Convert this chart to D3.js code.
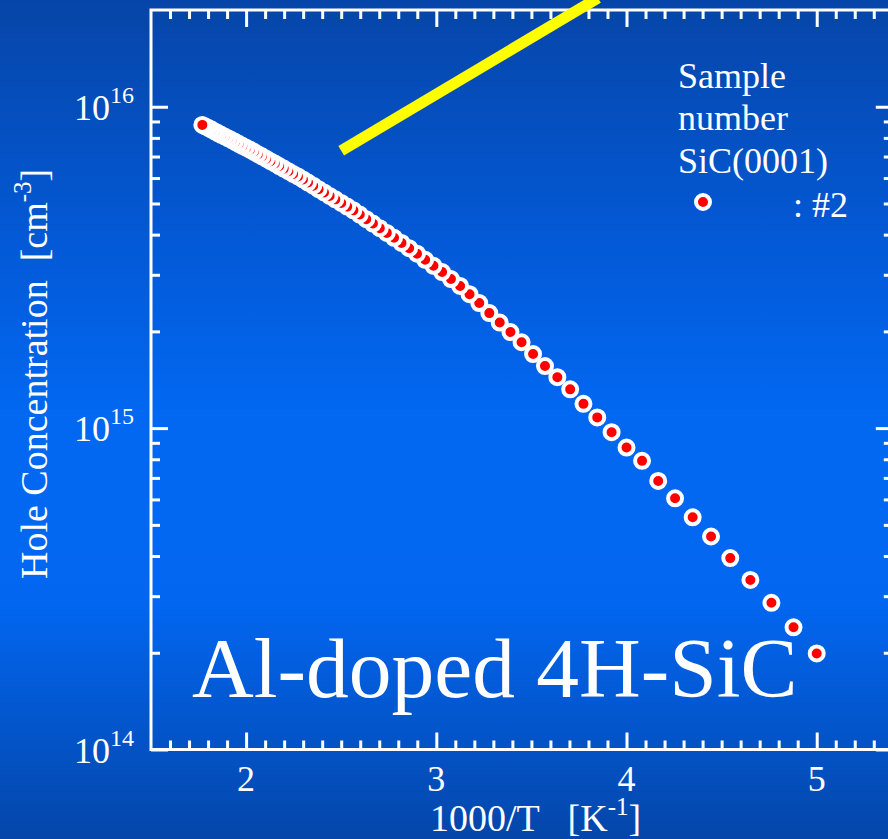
<!DOCTYPE html>
<html>
<head>
<meta charset="utf-8">
<script src="https://cdn.jsdelivr.net/npm/d3@7"></script>
<style>
  html, body { margin: 0; padding: 0; overflow: hidden; background: #0458d0; }
  text { font-family: "Liberation Serif", "Times New Roman", serif; fill: #ffffff; white-space: pre; }
</style>
</head>
<body>
<svg id="chart" width="888" height="839"></svg>
<script>
// Measurement temperatures (K) and hole concentration (cm^-3), sample #2
const temperatureK = [
  200, 205, 210, 215, 220, 225, 230, 235, 240, 245,
  250, 255, 260, 265, 270, 275, 280, 285, 290, 295,
  300, 305, 310, 315, 320, 325, 330, 335, 340, 345,
  350, 355, 360, 365, 370, 375, 380, 385, 390, 395,
  400, 405, 410, 415, 420, 425, 430, 435, 440, 445,
  450, 455, 460, 465, 470, 475, 480, 485, 490, 495,
  500, 505, 510, 515, 520, 525, 530, 535, 540, 545,
  550, 555, 560, 565
];
const holeConcentration = [
  1.99e14, 2.40e14, 2.86e14, 3.37e14, 3.94e14, 4.60e14, 5.28e14, 6.05e14, 6.85e14, 7.91e14,
  8.70e14, 9.71e14, 1.08e15, 1.19e15, 1.32e15, 1.44e15, 1.56e15, 1.70e15, 1.85e15, 1.99e15,
  2.13e15, 2.28e15, 2.45e15, 2.61e15, 2.77e15, 2.91e15, 3.06e15, 3.20e15, 3.34e15, 3.49e15,
  3.63e15, 3.77e15, 3.91e15, 4.05e15, 4.19e15, 4.33e15, 4.47e15, 4.62e15, 4.76e15, 4.89e15,
  5.02e15, 5.15e15, 5.28e15, 5.41e15, 5.54e15, 5.68e15, 5.81e15, 5.94e15, 6.07e15, 6.18e15,
  6.30e15, 6.42e15, 6.54e15, 6.66e15, 6.77e15, 6.89e15, 7.01e15, 7.12e15, 7.24e15, 7.35e15,
  7.46e15, 7.56e15, 7.67e15, 7.78e15, 7.88e15, 7.98e15, 8.08e15, 8.18e15, 8.28e15, 8.38e15,
  8.49e15, 8.59e15, 8.68e15, 8.78e15
];

// Axis tick labels
const xTickLabels = [2, 3, 4, 5];
const yDecadeExponents = [14, 15, 16];

// Legend and annotation text
const legendLines = ["Sample", "number", "SiC(0001)"];
const legendEntry = ": #2";
const materialLabel = "Al-doped 4H-SiC";

// Yellow slope guide (1000/T, cm^-3)
const guideX = [2.5, 3.85];
const guideY = [7.3e15, 2.18e16];

const W = 888, H = 839;
const svg = d3.select("#chart");

// Slide background: vertical blue gradient
const grad = svg.append("defs").append("linearGradient")
  .attr("id", "bg").attr("x1", 0).attr("y1", 0).attr("x2", 0).attr("y2", 1);
[["0%", "#0645a8"], ["30%", "#035ad8"], ["50%", "#0268f2"], ["72%", "#0266f0"], ["100%", "#0446aa"]]
  .forEach(([o, c]) => grad.append("stop").attr("offset", o).attr("stop-color", c));
svg.append("rect").attr("width", W).attr("height", H).attr("fill", "url(#bg)");

// Scales
const x = d3.scaleLinear().domain([1.5, 5.4]).range([151, 892.8]);
const y = d3.scaleLog().domain([1e14, 2e16]).range([749.5, 10]);
const [x0, x1] = x.range();
const [yB, yT] = y.range();

const rows = temperatureK.map((t, i) => ({ t, inv: 1000 / t, p: holeConcentration[i] }));

// Ticks
const xMajor = xTickLabels;
const xMinor = x.ticks(40).filter(v => Math.abs(v - Math.round(v)) > 1e-6 && v > 1.5);
const yAll = y.ticks();
const yMajor = yAll.filter(v => Math.abs(Math.log10(v) - Math.round(Math.log10(v))) < 1e-9);
const yMinor = yAll.filter(v => !yMajor.includes(v) && v < 2e16);

function styleAxis(g) {
  g.select(".domain").remove();
  g.selectAll("line").attr("stroke", "#ffffff").attr("stroke-width", 3);
  g.selectAll("text").remove();
}

const axes = svg.append("g");
// bottom
axes.append("g").attr("transform", `translate(0,${yB})`)
  .call(d3.axisBottom(x).tickValues(xMinor).tickSizeInner(-9).tickSizeOuter(0)).call(styleAxis);
axes.append("g").attr("transform", `translate(0,${yB})`)
  .call(d3.axisBottom(x).tickValues(xMajor).tickSizeInner(-17).tickSizeOuter(0)).call(styleAxis);
// top
axes.append("g").attr("transform", `translate(0,${yT})`)
  .call(d3.axisTop(x).tickValues(xMinor).tickSizeInner(-9).tickSizeOuter(0)).call(styleAxis);
axes.append("g").attr("transform", `translate(0,${yT})`)
  .call(d3.axisTop(x).tickValues(xMajor).tickSizeInner(-17).tickSizeOuter(0)).call(styleAxis);
// left
axes.append("g").attr("transform", `translate(${x0},0)`)
  .call(d3.axisLeft(y).tickValues(yMinor).tickSizeInner(-9).tickSizeOuter(0)).call(styleAxis);
axes.append("g").attr("transform", `translate(${x0},0)`)
  .call(d3.axisLeft(y).tickValues(yMajor).tickSizeInner(-17).tickSizeOuter(0)).call(styleAxis);
// right
axes.append("g").attr("transform", `translate(${x1},0)`)
  .call(d3.axisRight(y).tickValues(yMinor).tickSizeInner(-9).tickSizeOuter(0)).call(styleAxis);
axes.append("g").attr("transform", `translate(${x1},0)`)
  .call(d3.axisRight(y).tickValues(yMajor).tickSizeInner(-17).tickSizeOuter(0)).call(styleAxis);

// frame
axes.append("rect")
  .attr("x", x0).attr("y", yT).attr("width", x1 - x0).attr("height", yB - yT)
  .attr("fill", "none").attr("stroke", "#ffffff").attr("stroke-width", 3);

// x tick labels
svg.append("g").selectAll("text").data(xTickLabels).join("text")
  .attr("x", d => x(d)).attr("y", yB + 41)
  .attr("text-anchor", "middle").attr("font-size", 36)
  .text(d => d);

// y tick labels: 10 with superscript exponent
const yl = svg.append("g").selectAll("text").data(yDecadeExponents).join("text")
  .attr("x", 134).attr("y", d => y(Math.pow(10, d)) + 13)
  .attr("text-anchor", "end").attr("font-size", 36);
yl.append("tspan").text("10");
yl.append("tspan").attr("font-size", 24).attr("dy", -17).text(d => d);

// axis titles
const xt = svg.append("text").attr("x", 430).attr("y", 831).attr("font-size", 38);
xt.append("tspan").text("1000/T   [K");
xt.append("tspan").attr("font-size", 25).attr("dy", -16).text("-1");
xt.append("tspan").attr("dy", 16).text("]");

const yt = svg.append("text").attr("transform", "translate(47,579) rotate(-90)").attr("font-size", 38);
yt.append("tspan").text("Hole Concentration  [cm");
yt.append("tspan").attr("font-size", 25).attr("dy", -16).text("-3");
yt.append("tspan").attr("dy", 16).text("]");

// material label
svg.append("text").attr("x", 192).attr("y", 697).attr("font-size", 85.5).text(materialLabel);

// yellow slope guide
svg.append("line")
  .attr("x1", x(guideX[0])).attr("y1", y(guideY[0]))
  .attr("x2", x(guideX[1])).attr("y2", y(guideY[1]))
  .attr("stroke", "#ffff00").attr("stroke-width", 11).attr("stroke-linecap", "butt");

// data points, drawn from low to high temperature
svg.append("g").selectAll("circle").data(rows).join("circle")
  .attr("cx", d => x(d.inv)).attr("cy", d => y(d.p)).attr("r", 7)
  .attr("fill", "#ff0000").attr("stroke", "#ffffff").attr("stroke-width", 4);

// legend
const lg = svg.append("g");
lg.selectAll("text.line").data(legendLines).join("text").attr("class", "line")
  .attr("x", 678).attr("y", (d, i) => 88 + i * 42.3).attr("font-size", 36).text(d => d);
lg.append("circle").attr("cx", 703).attr("cy", 202).attr("r", 7)
  .attr("fill", "#ff0000").attr("stroke", "#ffffff").attr("stroke-width", 4);
lg.append("text").attr("x", 793).attr("y", 216.5).attr("font-size", 36).text(legendEntry);
</script>
</body>
</html>
